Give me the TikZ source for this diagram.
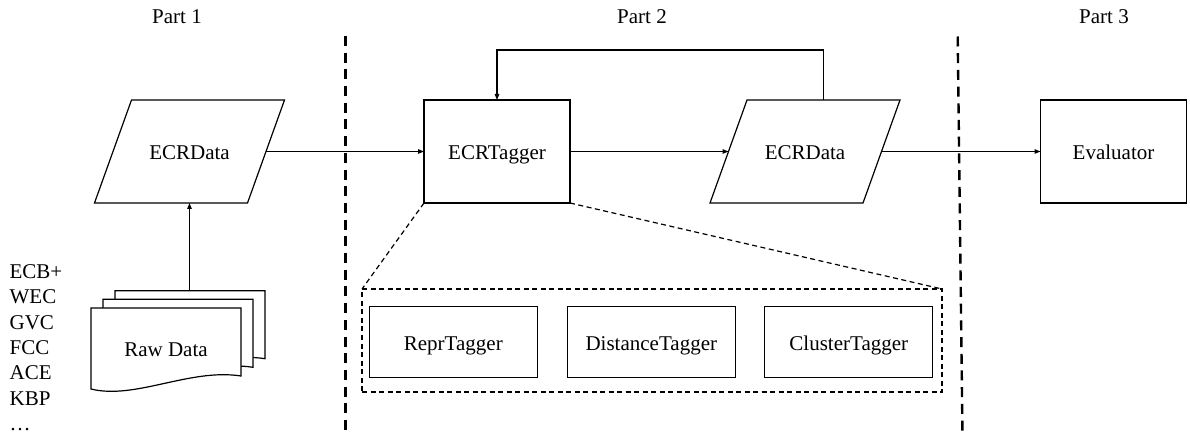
\documentclass[tikz,border=0pt]{standalone}
\usepackage{fontspec}
\setmainfont{Liberation Serif}
\usetikzlibrary{arrows.meta,calc}
\begin{document}
\begin{tikzpicture}[x=1pt,y=-1pt,
  font=\fontsize{21}{25}\selectfont,
  line width=1.2pt,
  arr/.style={-{Triangle[length=6pt,width=4.5pt]}},
  sep/.style={line width=2.4pt, dash pattern=on 10pt off 6.7pt},
  grp/.style={dash pattern=on 5pt off 3.5pt},
  txt/.style={text height=17pt, text depth=0pt, inner sep=0pt, outer sep=0pt, align=center},
  box/.style={txt, draw, rectangle, minimum width=146pt, minimum height=103pt},
  sub/.style={txt, draw, rectangle, minimum width=168pt, minimum height=71pt},
  data/.style={txt, rectangle, minimum width=153pt, minimum height=103pt},
  doc/.style={draw, fill=white},
  lab/.style={anchor=base, inner sep=0pt},
  src/.style={anchor=base west, inner sep=0pt}
]
\useasboundingbox (0,0) rectangle (1190,435);

% part labels
\node[lab] (p1) at (177,24) {Part 1};
\node[lab] (p2) at (642,24) {Part 2};
\node[lab] (p3) at (1104,24) {Part 3};

% separators
\coordinate (s1t) at (345.5,36);
\coordinate (s1b) at (345.5,436);
\coordinate (s2t) at (957.7,36.5);
\coordinate (s2b) at (962.5,436);
\draw[sep] (s1t) -- (s1b);
\draw[sep] (s2t) -- (s2b);

% main nodes
\node[data] (d1) at (189.5,151.5) {ECRData};
\node[box]  (tag) at (497,151.5) {ECRTagger};
\node[data] (d2) at (805,151.5) {ECRData};
\node[box]  (ev) at (1113.5,151.5) {Evaluator};
% parallelogram outlines of the data nodes (slant 37)
\foreach \n in {d1,d2}
  \draw ($(\n.north west)+(18.5,0)$) -- ($(\n.north east)+(18.5,0)$)
     -- ($(\n.south east)+(-18.5,0)$) -- ($(\n.south west)+(-18.5,0)$) -- cycle;

% group of taggers
\node[draw, grp, minimum width=580pt, minimum height=103pt, inner sep=0pt, outer sep=0pt] (grp) at (652,340.5) {};
\node[sub] (r1) at (453.3,341.7) {ReprTagger};
\node[sub] (r2) at (651.3,341.7) {DistanceTagger};
\node[sub] (r3) at (848.8,341.7) {ClusterTagger};
\draw[grp] (tag.south west) -- (grp.north west);
\draw[grp] (tag.south east) -- (grp.north east);

% connectors
\draw[arr] (d1.east) -- (tag.west);
\draw[arr] (tag.east) -- (d2.west);
\draw[arr] (d2.east) -- (ev.west);
\coordinate (fb) at (823.5,50);
\draw[arr] (fb |- d2.north) -- (fb) -| (tag.north);

% raw data stack
\foreach \dx/\dy in {24/-17.3, 12/-8.7, 0/0}
  \draw[doc, shift={(\dx,\dy)}] (91,308) -- (241,308) -- (241,376)
    .. controls (190,368) and (135,400) .. (91,389) -- cycle;
\node[lab] (raw) at (166,356.7) {Raw Data};
\coordinate (rawtop) at (189.5,290.7);
\draw[arr] (rawtop) -- (rawtop |- d1.south);

% dataset list
\node[src] (l1) at (9,278.3) {ECB+};
\node[src] (l2) at (9,303.7) {WEC};
\node[src] (l3) at (9,329.1) {GVC};
\node[src] (l4) at (9,354.5) {FCC};
\node[src] (l5) at (9,379.9) {ACE};
\node[src] (l6) at (9,405.3) {KBP};
\node[src] (l7) at (9,430.7) {…};
\end{tikzpicture}
\end{document}
